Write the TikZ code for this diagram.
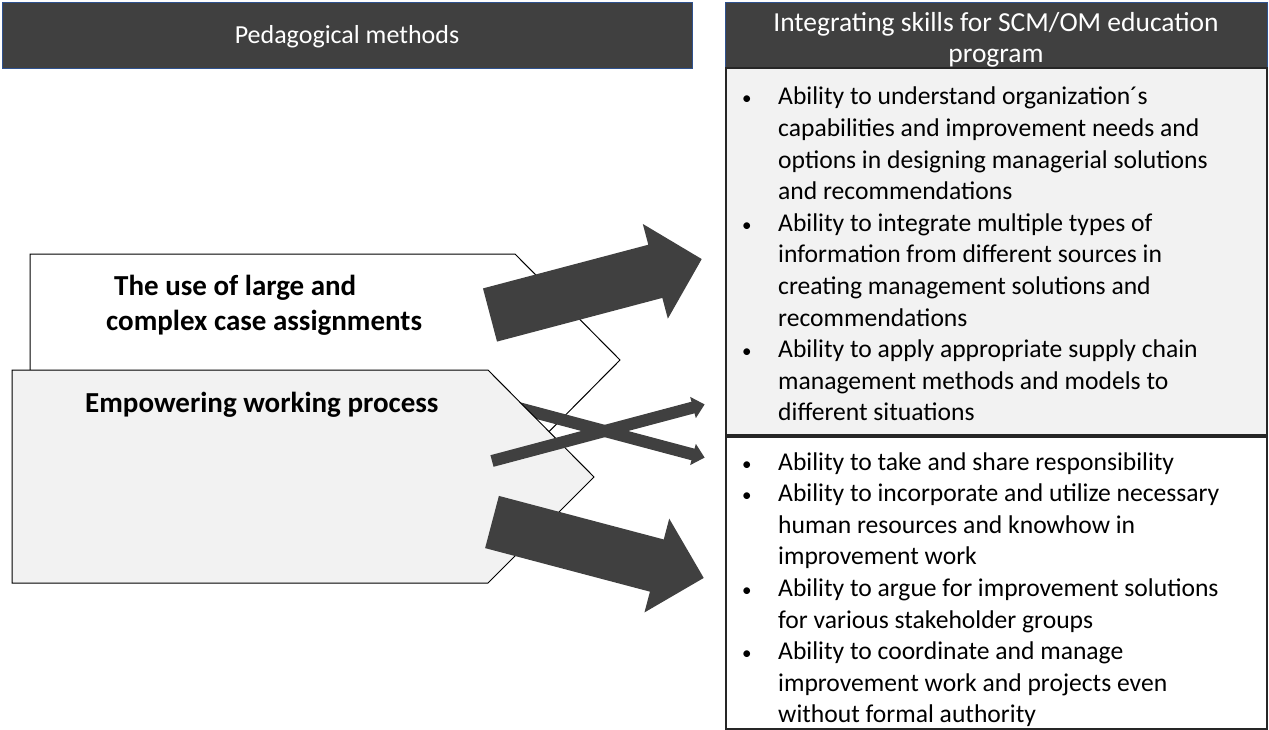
\documentclass[tikz,border=0pt]{standalone}
\usepackage{fontspec}
\setmainfont{Carlito}
\definecolor{hdr}{HTML}{404040}
\definecolor{hdrline}{HTML}{2F528F}
\definecolor{paleg}{HTML}{F2F2F2}
\newcommand{\blockarrow}[7]{% x, y, angle, length, half shaft, half head, head length
  \fill[arrowfill,shift={(#1,#2)},rotate=#3]
    (0,-#5) -- ({#4-#7},-#5) -- ({#4-#7},-#6) -- (#4,0) --
    ({#4-#7},#6) -- ({#4-#7},#5) -- (0,#5) -- cycle;}
\newcommand{\smallbullet}{{\fontsize{19}{19}\selectfont\textbullet}}
\begin{document}
\begin{tikzpicture}[x=1pt,y=-1pt,
  headerbox/.style={fill=hdr, draw=hdrline, line width=1.2pt,
    anchor=north west, inner sep=0pt, minimum height=66pt},
  headertext/.style={text=white, inner sep=0pt, align=center,
    font=\fontsize{26}{30.5}\selectfont},
  pentagon/.style={draw=black, line width=1pt},
  listbox/.style={draw=black!85, line width=1.4pt},
  arrowfill/.style={fill=hdr},
  boldtext/.style={anchor=base west, inner sep=0pt,
    font=\bfseries\fontsize{29}{35}\selectfont},
  listtext/.style={anchor=base west, inner sep=0pt,
    font=\fontsize{25.6}{31.6}\selectfont}]
\useasboundingbox (0,0) rectangle (1269,730);

% column headers
\node[headerbox, minimum width=690pt] (hleft) at (2,2) {};
\node[headertext] (hleftText) at (347,37) {Pedagogical methods};
\node[headerbox, minimum width=542pt] (hright) at (725,2) {};
\node[headertext, font=\fontsize{27.5}{30.5}\selectfont] (hrightText) at (996,40)
  {Integrating skills for SCM/OM education\\program};

% skill boxes
\draw[listbox, fill=paleg] (726,68) rectangle (1267,435);
\draw[listbox, fill=white] (726,437) rectangle (1267,729);

% upper method pentagon
\draw[pentagon, fill=white] (30,254) -- (515,254) -- (620,360) -- (515,466) -- (30,466) -- cycle;

% thin arrow that passes behind the lower pentagon
\blockarrow{492}{401}{-14.9}{220}{6}{11}{12}

% lower method pentagon
\draw[pentagon, fill=paleg] (12,370) -- (488,370) -- (594,477) -- (488,583) -- (12,583) -- cycle;

% arrows towards the skill boxes
\blockarrow{490}{315}{14.8}{219}{27.5}{49}{48}
\blockarrow{492}{461}{14.9}{220}{6}{11}{12}
\blockarrow{492}{522}{-14.8}{219}{27}{48.5}{48.5}

% method labels
\node[boldtext] (mcase) at (106,295)
  {\begin{tabular}[t]{@{}l@{}}\hspace*{8pt}The use of large and\\complex case assignments\end{tabular}};
\node[boldtext] (mwork) at (85,412) {Empowering working process};

% skill lists
\node[listtext] (skillsA) at (742,105) {\begin{tabular}[t]{@{}p{36pt}@{}l@{}}
\smallbullet & Ability to understand organization´s\\
 & capabilities and improvement needs and\\
 & options in designing managerial solutions\\
 & and recommendations\\
\smallbullet & Ability to integrate multiple types of\\
 & information from different sources in\\
 & creating management solutions and\\
 & recommendations\\
\smallbullet & Ability to apply appropriate supply chain\\
 & management methods and models to\\
 & different situations
\end{tabular}};
\node[listtext] (skillsB) at (742,470) {\begin{tabular}[t]{@{}p{36pt}@{}l@{}}
\smallbullet & Ability to take and share responsibility\\
\smallbullet & Ability to incorporate and utilize necessary\\
 & human resources and knowhow in\\
 & improvement work\\
\smallbullet & Ability to argue for improvement solutions\\
 & for various stakeholder groups\\
\smallbullet & Ability to coordinate and manage\\
 & improvement work and projects even\\
 & without formal authority
\end{tabular}};
\end{tikzpicture}
\end{document}
